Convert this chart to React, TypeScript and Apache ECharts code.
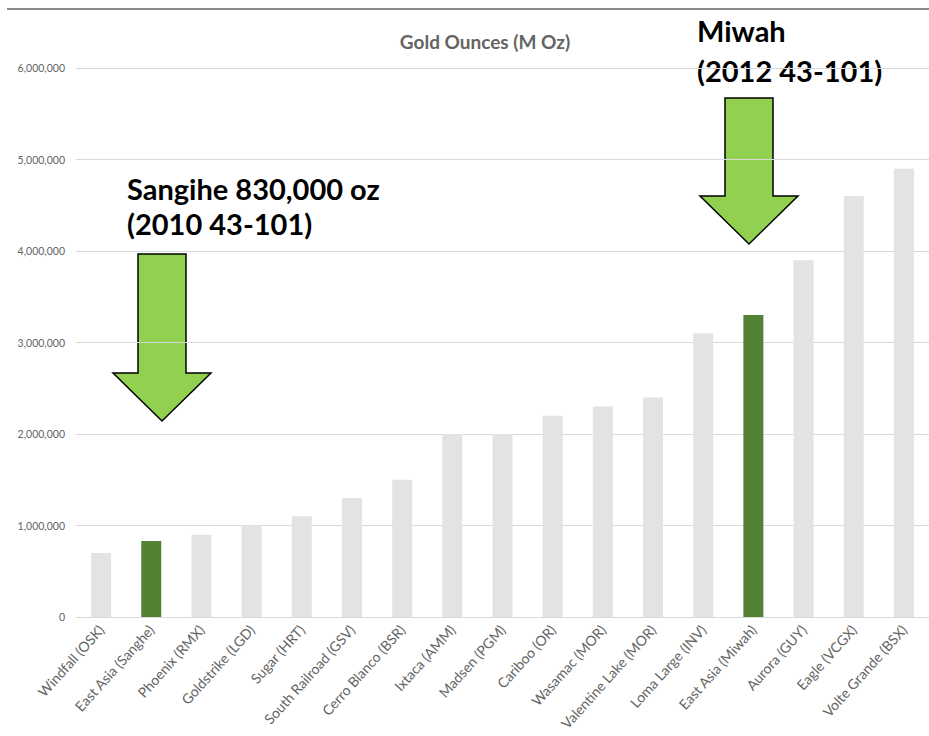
import React, { useEffect, useRef } from "react";
import * as echarts from "echarts";

const categories = [
  "Windfall (OSK)",
  "East Asia (Sanghe)",
  "Phoenix (RMX)",
  "Goldstrike (LGD)",
  "Sugar (HRT)",
  "South Railroad (GSV)",
  "Cerro Blanco (BSR)",
  "Ixtaca (AMM)",
  "Madsen (PGM)",
  "Cariboo (OR)",
  "Wasamac (MOR)",
  "Valentine Lake (MOR)",
  "Loma Large (INV)",
  "East Asia (Miwah)",
  "Aurora (GUY)",
  "Eagle (VCGX)",
  "Volte Grande (BSX)",
];

const goldOunces = [
  700000, 830000, 900000, 1000000, 1100000, 1300000, 1500000, 2000000, 2000000,
  2200000, 2300000, 2400000, 3100000, 3300000, 3900000, 4600000, 4900000,
];

const highlighted = ["East Asia (Sanghe)", "East Asia (Miwah)"];

const yTicks = [0, 1000000, 2000000, 3000000, 4000000, 5000000, 6000000];

const titleText = "Gold Ounces (M Oz)";
const sangiheNote = ["Sangihe 830,000 oz", "(2010 43-101)"];
const miwahNote = ["Miwah", "(2012 43-101)"];

const GREY_BAR = "#e3e3e3";
const GREEN_BAR = "#548235";
const ARROW = "#92d050";
const FONT = "Lato, 'Open Sans', sans-serif";

function arrowPoints(cx: number, top: number, shaftBottom: number, tip: number, shaftHalf: number, headHalf: number) {
  return [
    [cx - shaftHalf, top],
    [cx + shaftHalf, top],
    [cx + shaftHalf, shaftBottom],
    [cx + headHalf, shaftBottom],
    [cx, tip],
    [cx - headHalf, shaftBottom],
    [cx - shaftHalf, shaftBottom],
  ];
}

export default function App() {
  const ref = useRef<HTMLDivElement>(null);
  useEffect(() => {
    if (!ref.current) return;
    const chart = echarts.init(ref.current, null, { renderer: "svg" });
    chart.setOption({
      animation: false,
      backgroundColor: "#ffffff",
      title: {
        text: titleText,
        left: 480,
        top: 27,
        textAlign: "center",
        textStyle: {
          color: "#646464",
          fontSize: 19,
          fontWeight: "bold",
          fontFamily: FONT,
        },
      },
      grid: { left: 76, right: -4, top: 68, bottom: 119, containLabel: false },
      xAxis: {
        type: "category",
        data: categories,
        axisLine: { show: true, lineStyle: { color: "#d9d9d9", width: 1 } },
        axisTick: { show: false },
        axisLabel: {
          rotate: 48,
          interval: 0,
          margin: 10,
          color: "#646464",
          fontSize: 14,
          fontFamily: FONT,
        },
      },
      yAxis: {
        type: "value",
        min: 0,
        max: 6000000,
        interval: 1000000,
        axisLine: { show: false },
        axisTick: { show: false },
        splitLine: { lineStyle: { color: "#d9d9d9", width: 1 } },
        axisLabel: {
          color: "#646464",
          fontSize: 10.5,
          fontFamily: FONT,
          margin: 11,
          formatter: (v: number) => (yTicks.includes(v) ? v.toLocaleString("en-US") : ""),
        },
      },
      series: [
        {
          type: "bar",
          barWidth: 20,
          data: goldOunces.map((v, i) => ({
            value: v,
            itemStyle: { color: highlighted.includes(categories[i]) ? GREEN_BAR : GREY_BAR },
          })),
        },
      ],
      graphic: [
        {
          type: "line",
          shape: { x1: 7, y1: 9, x2: 929, y2: 9 },
          style: { stroke: "#8a8a8a", lineWidth: 2 },
        },
        {
          type: "text",
          x: 127,
          y: 171,
          style: {
            text: sangiheNote.join("\n"),
            fill: "#000",
            font: `bold 29px ${FONT}`,
            lineHeight: 35,
          },
        },
        {
          type: "text",
          x: 697,
          y: 10,
          style: {
            text: miwahNote.join("\n"),
            fill: "#000",
            font: `bold 29px ${FONT}`,
            lineHeight: 40,
          },
        },
        {
          type: "polygon",
          shape: { points: arrowPoints(162, 254, 373, 421, 24, 49) },
          style: { fill: ARROW, stroke: "#000", lineWidth: 1.5 },
        },
        {
          type: "polygon",
          shape: { points: arrowPoints(749, 98, 196, 244, 24, 49) },
          style: { fill: ARROW, stroke: "#000", lineWidth: 1.5 },
        },
      ],
    });
    return () => chart.dispose();
  }, []);
  return (
    <div
      ref={ref}
      style={{ position: "fixed", left: 0, top: 0, width: 929, height: 736 }}
    />
  );
}
